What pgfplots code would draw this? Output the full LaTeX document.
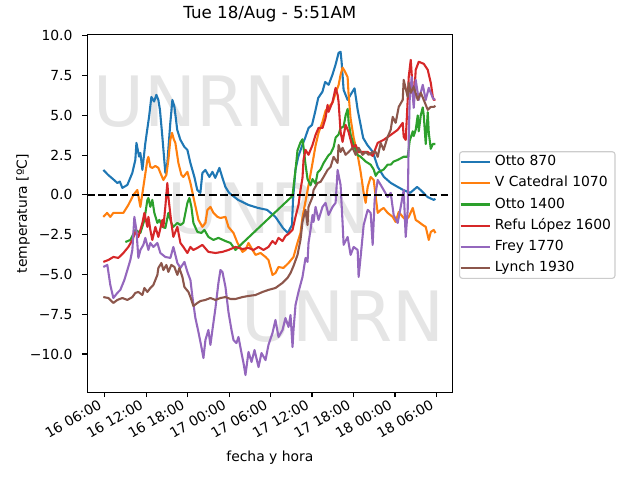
\documentclass[border=0pt]{standalone}
\usepackage{fontspec}
\setmainfont{DejaVu Sans}
\usepackage{pgfplots}
\pgfplotsset{compat=1.18}
\definecolor{c0}{HTML}{1F77B4}
\definecolor{c1}{HTML}{FF7F0E}
\definecolor{c2}{HTML}{2CA02C}
\definecolor{c3}{HTML}{D62728}
\definecolor{c4}{HTML}{9467BD}
\definecolor{c5}{HTML}{8C564B}
\begin{document}
\begin{tikzpicture}
\path[use as bounding box] (-62.9pt,-63.1pt) rectangle (397.9pt,282.5pt);
\begin{axis}[
  at={(0pt,0pt)}, anchor=south west,
  scale only axis, width=262.8pt, height=257.4pt,
  xmin=3.5, xmax=56.3, ymin=-12.41, ymax=10.06,
  axis line style={line width=0.8pt},
  tick align=outside, tick pos=left,
  major tick length=3.5pt,
  every tick/.style={black, line width=0.8pt},
  xtick={6,12,18,24,30,36,42,48,54},
  xticklabels={16 06:00,16 12:00,16 18:00,17 00:00,17 06:00,17 12:00,17 18:00,18 00:00,18 06:00},
  ytick={-10,-7.5,-5,-2.5,0,2.5,5,7.5,10},
  yticklabels={−10.0,−7.5,−5.0,−2.5,0.0,2.5,5.0,7.5,10.0},
  tick label style={font=\fontsize{10}{12}\selectfont},
  xticklabel style={inner sep=0pt, text height=9.28pt, text depth=2.36pt, anchor=south east, yshift=-9.6pt, rotate=30},
  yticklabel style={inner sep=0pt, anchor=east, xshift=-7pt},
  title={Tue 18/Aug - 5:51AM},
  title style={at={(axis description cs:0.5,1.0233)}, anchor=base, inner sep=0pt, font=\fontsize{12}{14}\selectfont},
  xlabel={fecha y hora},
  xlabel style={at={(axis description cs:0.5,-0.194)}, anchor=base, inner sep=0pt, font=\fontsize{10}{12}\selectfont},
  ylabel={temperatura [ºC]},
  ylabel style={at={(axis description cs:-0.166,0.5)}, anchor=base, inner sep=0pt, font=\fontsize{10}{12}\selectfont},
  legend style={at={(axis description cs:1,0.496)}, anchor=west, xshift=4.8pt,
    draw=black!20, rounded corners=2pt, line width=0.8pt, inner sep=0pt, row sep=0pt,
    font=\fontsize{10}{12}\selectfont,
    nodes={inner xsep=2.9pt, inner ysep=2.85pt, text height=7.3pt, text depth=2.2pt}},
  legend cell align=left,
  legend image code/.code={\draw[#1, line width=1.5pt] (0pt,0pt) -- (21pt,0pt);},
  every axis plot/.append style={line width=1.5pt, line join=round},
]
\node[anchor=base west, inner sep=0pt, text=black!10, font=\fontsize{50}{60}\selectfont] at (rel axis cs:0.016,0.743) {UNRN};
\node[anchor=base west, inner sep=0pt, text=black!10, font=\fontsize{50}{60}\selectfont] at (rel axis cs:0.219,0.443) {UNRN};
\node[anchor=base west, inner sep=0pt, text=black!10, font=\fontsize{50}{60}\selectfont] at (rel axis cs:0.422,0.141) {UNRN};

\addplot[c0] coordinates {(5.81,1.57)(6.5,1.26)(7.2,1.0)(7.84,0.75)(8.2,0.84)(8.56,0.44)(9.29,0.63)(10.0,1.38)(10.44,2.2)(10.6,3.27)(10.98,2.41)(11.17,2.64)(11.46,1.57)(11.89,3.27)(12.43,4.92)(12.76,6.16)(13.15,5.87)(13.48,6.29)(13.77,5.97)(14.0,5.35)(14.35,3.65)(14.78,1.38)(15.07,2.01)(15.5,4.53)(15.8,5.97)(16.1,5.53)(16.5,4.09)(16.96,3.46)(17.53,3.02)(17.97,2.83)(18.4,2.01)(18.98,1.13)(19.4,0.31)(19.85,0.13)(20.14,1.38)(20.57,1.57)(21.15,1.13)(21.6,1.45)(22.0,1.07)(22.6,1.7)(23.0,1.13)(23.47,0.5)(24.0,0.13)(25.3,-0.31)(26.8,-0.63)(28.2,-0.82)(29.5,-0.94)(30.7,-1.38)(31.8,-2.08)(32.5,-2.39)(33.1,-1.89)(33.25,-0.31)(33.6,1.57)(34.0,2.39)(34.6,3.14)(35.0,3.58)(35.5,4.21)(36.0,4.4)(36.45,5.22)(36.9,6.1)(37.5,6.48)(37.9,7.1)(38.4,6.92)(38.95,7.55)(39.4,8.18)(39.7,8.68)(39.84,8.93)(40.13,9.0)(40.28,8.36)(40.57,6.6)(41.15,5.97)(41.58,6.3)(42.15,6.7)(42.6,5.35)(43.03,4.4)(43.4,3.58)(44.0,3.14)(44.8,2.7)(45.5,1.76)(46.4,1.13)(47.4,0.75)(48.4,0.5)(49.2,0.31)(50.2,0.13)(51.2,0.5)(51.7,0.31)(52.7,-0.13)(53.6,-0.31)(53.85,-0.25)};
\addlegendentry{Otto 870}

\addplot[c1] coordinates {(5.81,-1.38)(6.35,-1.13)(6.82,-1.38)(7.26,-1.13)(7.98,-1.13)(8.71,-1.13)(9.43,-0.63)(10.16,0)(10.73,0.31)(11.17,-0.75)(11.75,0.94)(12.18,2.2)(12.33,2.39)(12.61,1.76)(12.9,1.7)(13.34,1.82)(13.77,1.7)(14.06,1.38)(14.5,0.94)(14.93,1.26)(15.22,2.2)(15.5,3.46)(15.75,3.9)(16.0,3.5)(16.23,3.27)(16.67,2.01)(17.1,1.26)(17.39,1.13)(17.97,1.45)(18.41,0.75)(18.84,-0.13)(19.57,-1.57)(20.14,-2.01)(20.58,-1.76)(20.87,-0.94)(21.3,-0.75)(21.74,-1.13)(22.32,-1.38)(22.75,-1.45)(23.48,-1.38)(23.91,-2.01)(24.64,-2.39)(25.22,-3.02)(25.94,-3.58)(26.37,-3.46)(26.81,-3.02)(27.39,-3.46)(27.83,-3.77)(28.55,-3.65)(29.27,-3.9)(29.7,-4.09)(30.28,-5.03)(30.71,-4.91)(31.15,-4.53)(31.87,-4.59)(32.6,-4.28)(33.32,-3.9)(33.9,-3.0)(34.33,-2.4)(34.62,-1.4)(35.06,-0.4)(35.49,0.6)(36.07,2.0)(36.51,3.1)(36.94,3.9)(37.52,4.6)(37.96,5.3)(38.39,5.5)(38.97,5.8)(39.41,6.4)(39.84,6.9)(40.13,7.55)(40.42,8.0)(40.71,7.8)(41.15,7.4)(41.29,6.3)(41.58,4.8)(42.02,3.6)(42.6,2.5)(43.03,1.45)(43.47,0.13)(43.76,-0.5)(44.05,0.5)(44.48,1.13)(44.92,0.94)(45.5,-1.13)(45.93,-0.94)(46.36,-0.82)(46.94,-1.13)(47.67,-1.38)(48.1,-1.7)(48.54,-1.07)(49.12,-1.38)(49.55,-1.57)(49.99,-1.38)(50.57,-0.82)(51.0,-1.57)(51.44,-1.7)(52.02,-1.89)(52.45,-2.01)(52.89,-2.83)(53.18,-2.33)(53.61,-2.2)(53.85,-2.4)};
\addlegendentry{V Catedral 1070}

\addplot[c2] coordinates {(9.0,-2.96)(9.72,-2.83)(10.44,-2.2)(11.17,-2.39)(11.75,-1.57)(12.18,-0.31)(12.33,-0.19)(12.61,-0.75)(12.9,-0.31)(13.19,-1.13)(13.63,-1.76)(13.92,-1.57)(14.35,-2.01)(14.78,-2.08)(15.22,-1.13)(15.65,-1.76)(15.94,-2.01)(16.52,-1.76)(16.96,-1.89)(17.39,-1.76)(17.97,-0.5)(18.26,-0.19)(18.55,-0.75)(18.84,-1.76)(19.42,-2.33)(20.0,-2.39)(20.43,-2.2)(21.01,-2.64)(21.74,-2.83)(22.46,-2.7)(23.48,-2.9)(24.2,-3.02)(24.93,-3.46)(25.36,-3.27)(33.18,-0.06)(33.32,0.5)(33.61,1.57)(33.9,2.8)(34.33,3.3)(34.62,3.5)(34.77,3.0)(35.06,1.9)(35.35,1.0)(35.78,0.6)(36.07,1.0)(36.51,0.7)(36.8,1.4)(37.23,1.6)(37.67,2.0)(38.1,2.3)(38.4,2.5)(38.68,2.6)(39.12,3.0)(39.41,3.6)(39.84,3.8)(40.13,4.2)(40.57,4.3)(40.86,5.0)(41.15,5.4)(41.29,4.6)(41.58,3.8)(42.02,3.14)(42.6,2.5)(43.03,2.4)(43.76,2.1)(44.48,1.9)(44.92,1.6)(45.21,1.2)(45.5,1.4)(45.93,1.5)(46.36,1.6)(46.94,1.9)(47.38,1.9)(47.81,2.1)(48.39,2.2)(48.83,2.3)(49.26,2.4)(49.84,2.4)(50.13,3.4)(50.57,4.0)(50.71,3.7)(51.0,4.1)(51.29,5.0)(51.44,4.0)(51.73,5.0)(52.02,5.5)(52.16,5.0)(52.45,3.2)(52.74,5.2)(52.89,3.9)(53.18,2.9)(53.47,3.2)(53.85,3.2)};
\addlegendentry{Otto 1400}

\addplot[c3] coordinates {(5.81,-4.21)(6.54,-4.09)(7.26,-3.9)(7.98,-3.96)(8.71,-3.65)(9.43,-3.27)(10.01,-2.83)(10.44,-2.33)(10.88,-2.64)(11.46,-1.76)(11.75,-1.13)(12.18,-2.01)(12.33,-1.38)(12.61,-2.2)(12.9,-2.83)(13.34,-2.01)(13.77,-2.64)(14.35,-1.57)(14.5,-2.01)(14.78,-0.75)(15.07,0.75)(15.22,-0.13)(15.65,-1.76)(15.94,-2.64)(16.52,-2.01)(16.96,-3.02)(17.39,-3.27)(17.97,-3.65)(18.41,-3.27)(18.84,-3.46)(19.42,-3.33)(20.14,-3.14)(21.01,-3.58)(22.03,-3.65)(23.04,-3.58)(23.91,-3.46)(24.93,-3.27)(25.94,-3.4)(26.81,-3.33)(27.54,-3.46)(28.26,-3.27)(28.98,-3.46)(29.7,-3.27)(30.28,-2.9)(30.71,-3.08)(31.15,-2.7)(31.73,-2.9)(32.16,-2.58)(32.6,-2.45)(33.18,-2.2)(33.61,-1.38)(34.04,-0.63)(34.33,0.31)(34.62,1.07)(34.77,2.2)(35.06,2.83)(35.49,2.52)(36.07,3.14)(36.51,3.77)(36.94,4.21)(37.52,4.21)(37.96,4.84)(38.25,5.66)(38.39,5.22)(38.97,5.85)(39.41,6.73)(39.7,6.29)(39.84,5.85)(40.13,3.96)(40.42,3.33)(40.86,4.4)(41.29,3.96)(41.87,2.96)(42.31,3.14)(42.74,2.7)(43.32,2.7)(44.05,2.7)(44.77,2.45)(45.5,3.27)(46.36,3.46)(47.38,3.77)(48.39,4.09)(49.12,4.53)(49.26,3.65)(49.55,3.46)(49.84,5.97)(49.99,7.42)(50.28,8.49)(50.57,6.6)(50.71,5.79)(51.0,7.86)(51.44,8.37)(52.16,8.24)(52.74,7.86)(53.18,7.04)(53.47,6.16)(53.61,5.97)(53.85,6.0)};
\addlegendentry{Refu López 1600}

\addplot[c4] coordinates {(5.81,-4.53)(6.39,-4.4)(6.82,-5.66)(7.26,-6.48)(7.84,-6.16)(8.27,-5.97)(8.85,-5.35)(9.29,-4.72)(9.72,-4.09)(10.01,-3.46)(10.3,-1.38)(10.59,-2.2)(10.88,-3.96)(11.17,-3.46)(11.6,-3.14)(11.89,-2.7)(12.33,-3.46)(12.61,-3.02)(13.05,-3.27)(13.63,-3.02)(14.06,-3.65)(14.78,-3.9)(15.51,-3.96)(15.94,-3.27)(16.52,-4.28)(16.96,-4.59)(17.54,-4.21)(17.97,-4.84)(18.41,-5.35)(18.7,-6.42)(19.13,-7.74)(19.57,-8.62)(20.0,-9.56)(20.29,-10.25)(20.58,-9.12)(21.01,-8.49)(21.3,-9.43)(21.59,-8.49)(22.03,-7.11)(22.46,-5.53)(22.75,-4.72)(23.04,-4.84)(23.48,-5.79)(23.91,-7.36)(24.35,-8.49)(24.64,-9.12)(25.07,-9.31)(25.36,-8.93)(25.8,-9.94)(26.09,-10.57)(26.37,-11.32)(26.81,-9.87)(27.25,-10.5)(27.68,-9.75)(28.26,-10.82)(28.69,-9.94)(29.27,-10.38)(29.7,-9.43)(30.28,-8.68)(30.71,-7.86)(31.15,-8.93)(31.73,-8.49)(32.16,-7.74)(32.6,-8.3)(32.89,-7.55)(33.18,-9.56)(33.32,-8.49)(33.61,-6.92)(34.04,-6.1)(34.62,-5.16)(35.06,-3.96)(35.35,-4.21)(35.49,-3.02)(35.78,-2.2)(36.07,-1.26)(36.22,-1.7)(36.51,-0.75)(36.94,-1.57)(37.52,-0.75)(37.96,-0.5)(38.39,-1.26)(38.97,-0.75)(39.41,-0.5)(39.7,1.57)(40.13,0.63)(40.42,-1.76)(40.57,-3.14)(41.15,-2.64)(41.58,-3.77)(42.02,-3.27)(42.6,-3.46)(42.74,-5.16)(43.03,-3.9)(43.47,-1.89)(44.05,-0.94)(44.48,-1.13)(44.77,-3.14)(45.06,-0.31)(45.5,0.94)(45.93,0.63)(46.36,0.31)(46.94,-0.13)(47.38,0.13)(47.81,-1.26)(48.39,-1.76)(48.83,-0.75)(49.26,0.31)(49.55,-2.64)(49.84,-0.94)(49.99,3.65)(50.13,5.97)(50.42,7.42)(50.71,5.47)(51.0,7.23)(51.44,5.97)(52.02,6.92)(52.45,5.97)(52.89,6.73)(53.47,6.1)(53.76,5.97)};
\addlegendentry{Frey 1770}

\addplot[c5] coordinates {(5.81,-6.42)(6.54,-6.48)(7.26,-6.79)(7.84,-6.6)(8.56,-6.48)(9.29,-6.6)(10.01,-6.42)(10.44,-6.16)(10.88,-6.1)(11.46,-6.29)(11.75,-5.85)(12.18,-6.1)(12.61,-5.85)(13.05,-5.66)(13.63,-5.03)(13.77,-4.59)(14.21,-4.28)(14.5,-4.72)(14.93,-4.4)(15.22,-4.84)(15.65,-4.4)(16.09,-4.53)(16.52,-5.03)(16.81,-4.59)(17.25,-5.16)(17.54,-5.79)(18.12,-6.1)(18.41,-6.42)(18.84,-6.98)(19.42,-6.79)(19.85,-6.67)(20.58,-6.6)(21.3,-6.48)(22.03,-6.6)(22.75,-6.48)(23.48,-6.42)(24.2,-6.54)(24.93,-6.54)(25.94,-6.42)(26.81,-6.35)(27.83,-6.29)(28.84,-6.1)(29.7,-5.97)(30.71,-5.85)(31.73,-5.53)(32.45,-5.22)(32.89,-4.91)(33.32,-4.47)(33.9,-3.77)(34.33,-2.83)(34.62,-1.7)(35.06,-0.94)(35.35,-1.89)(35.49,-0.75)(36.07,-0.13)(36.22,0.31)(36.8,0.75)(37.23,0.82)(37.67,1.13)(38.25,1.57)(38.68,1.76)(39.12,2.39)(39.7,2.01)(39.84,3.14)(40.13,2.7)(40.42,2.96)(40.86,2.52)(41.29,2.7)(41.87,2.96)(42.31,2.52)(42.74,2.96)(43.32,2.52)(43.76,2.7)(44.19,2.52)(44.77,2.7)(45.21,2.7)(45.5,2.39)(45.93,3.27)(46.36,2.83)(46.94,3.65)(47.38,4.09)(47.67,4.91)(48.1,4.53)(48.54,5.53)(49.12,5.97)(49.26,7.23)(49.84,6.16)(49.99,7.04)(50.28,6.42)(50.71,6.79)(51.29,5.97)(51.73,6.42)(52.16,5.97)(52.74,5.35)(53.18,5.53)(53.61,5.53)(53.85,5.6)};
\addlegendentry{Lynch 1930}

\addplot[black, dash pattern=on 5.55pt off 2.4pt, forget plot] coordinates {(3.5,0)(56.3,0)};
\end{axis}
\end{tikzpicture}
\end{document}
